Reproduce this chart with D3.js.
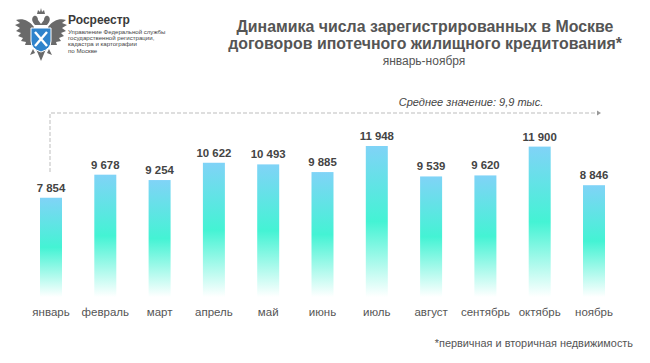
<!DOCTYPE html>
<html>
<head>
<meta charset="utf-8">
<script src="https://cdn.jsdelivr.net/npm/d3@7"></script>
<style>
    body { margin: 0; background: #fff; }
    svg { display: block; font-family: "Liberation Sans", Arial, sans-serif; }
</style>
</head>
<body>
<div class="chart-container"></div>
<script>
const months = ["январь", "февраль", "март", "апрель", "май", "июнь", "июль", "август", "сентябрь", "октябрь", "ноябрь"];
const values = [7854, 9678, 9254, 10622, 10493, 9885, 11948, 9539, 9620, 11900, 8846];
const titleLines = ["Динамика числа зарегистрированных в Москве", "договоров ипотечного жилищного кредитования*"];
const subtitle = "январь-ноября";
const meanLabel = "Среднее значение: 9,9 тыс.";
const footnote = "*первичная и вторичная недвижимость";
const logoName = "Росреестр";
const logoLines = ["Управление Федеральной службы", "государственной регистрации,", "кадастра и картографии", "по Москве"];

const w = 650;
const h = 363;

const svg = d3.select(".chart-container")
    .append("svg")
    .attr("width", w)
    .attr("height", h);

// bar gradient: blue on top, aqua in the middle, fading to white
const defs = svg.append("defs");
const grad = defs.append("linearGradient")
    .attr("id", "barGrad")
    .attr("x1", 0).attr("y1", 0).attr("x2", 0).attr("y2", 1);
grad.append("stop").attr("offset", "0%").attr("stop-color", "#80d3f7");
grad.append("stop").attr("offset", "50%").attr("stop-color", "#44f3d4");
grad.append("stop").attr("offset", "100%").attr("stop-color", "#ffffff");

const xScale = d3.scaleBand()
    .domain(months)
    .range([23.85, 621.15])
    .paddingInner(0.595)
    .paddingOuter(0.2975);

const yScale = d3.scaleLinear()
    .domain([0, d3.max(values)])
    .range([297, 146]);

const fmt = (v) => d3.format(",")(v).replace(/,/g, " ");

// logo
const logo = svg.append("g");
const wing = "M34,27 C29,20 22,18 16,20 L20,23 L15,25 L20,28 L16,31 L21,33 L18,36 L23,38 L21,41 L26,42 L25,45 L31,45 Z";
logo.append("path").attr("d", wing).attr("fill", "#6a6a6a");
logo.append("path").attr("d", wing).attr("fill", "#6a6a6a").attr("transform", "translate(82,0) scale(-1,1)");
logo.append("path")
    .attr("d", "M35,25 C32,22 31,18 34,16 C36,15 38,17 38,20 L41,24 L44,20 C44,17 46,15 48,16 C51,18 50,22 47,25 Z")
    .attr("fill", "#6a6a6a");
logo.append("path")
    .attr("d", "M37,14 L38,10 L40,12 L41,8 L42,12 L44,10 L45,14 Z")
    .attr("fill", "#6a6a6a");
logo.append("path")
    .attr("d", "M36,49 L41,61 L46,49 Z M33,49 L30,55 L35,53 Z M49,49 L52,55 L47,53 Z")
    .attr("fill", "#6a6a6a");
logo.append("path")
    .attr("d", "M31,28 H51 V41 Q51,49 41,52 Q31,49 31,41 Z")
    .attr("fill", "#2f83cc")
    .attr("stroke", "#ffffff")
    .attr("stroke-width", 1);
logo.append("path")
    .attr("d", "M35,32 L47,46 M47,32 L35,46")
    .attr("stroke", "#ffffff")
    .attr("stroke-width", 2.4);

logo.append("text")
    .attr("x", 68).attr("y", 24)
    .style("font-size", "12px")
    .style("font-weight", "bold")
    .attr("fill", "#3a3a3a")
    .text(logoName);

logo.selectAll(".logo-line")
    .data(logoLines)
    .enter()
    .append("text")
    .attr("class", "logo-line")
    .attr("x", 68)
    .attr("y", (d, i) => 33.5 + i * 6.4)
    .style("font-size", "6.1px")
    .attr("fill", "#444")
    .text((d) => d);

// title
svg.selectAll(".title")
    .data(titleLines)
    .enter()
    .append("text")
    .attr("class", "title")
    .attr("x", 425)
    .attr("y", (d, i) => 31.8 + i * 17)
    .attr("text-anchor", "middle")
    .style("font-size", "15.9px")
    .style("font-weight", "bold")
    .attr("fill", "#555")
    .text((d) => d);

svg.append("text")
    .attr("x", 424)
    .attr("y", 65)
    .attr("text-anchor", "middle")
    .style("font-size", "12px")
    .attr("fill", "#555")
    .text(subtitle);

// mean bracket
const left = xScale(months[0]) + xScale.bandwidth() / 2 - 1;
const right = xScale(months[months.length - 1]) + xScale.bandwidth() / 2 + 7;
svg.append("path")
    .attr("d", `M${left},172 V113 H${right - 4}`)
    .attr("fill", "none")
    .attr("stroke", "#bdbdbd")
    .attr("stroke-width", 1)
    .attr("stroke-dasharray", "4,2");
svg.append("path")
    .attr("d", `M${right - 4},110.5 L${right},113 L${right - 4},115.5 Z`)
    .attr("fill", "#999");

svg.append("text")
    .attr("x", 471)
    .attr("y", 106)
    .attr("text-anchor", "middle")
    .style("font-size", "11px")
    .style("font-style", "italic")
    .attr("fill", "#444")
    .text(meanLabel);

// bars
svg.selectAll(".bar")
    .data(values)
    .enter()
    .append("rect")
    .attr("class", "bar")
    .attr("x", (d, i) => xScale(months[i]))
    .attr("y", (d) => yScale(d))
    .attr("width", xScale.bandwidth())
    .attr("height", (d) => yScale(0) - yScale(d))
    .attr("fill", "url(#barGrad)");

svg.selectAll(".value")
    .data(values)
    .enter()
    .append("text")
    .attr("class", "value")
    .attr("x", (d, i) => xScale(months[i]) + xScale.bandwidth() / 2)
    .attr("y", (d) => yScale(d) - 6)
    .attr("text-anchor", "middle")
    .style("font-size", "11.4px")
    .style("font-weight", "bold")
    .attr("fill", "#444")
    .text((d) => fmt(d));

// month axis
const xAxis = d3.axisBottom(xScale).tickSize(0).tickPadding(3);
const axisG = svg.append("g")
    .attr("transform", "translate(0,305)")
    .call(xAxis);
axisG.select(".domain").remove();
axisG.selectAll("text")
    .style("font-size", "11.5px")
    .style("font-family", "\"Liberation Sans\", Arial, sans-serif")
    .attr("fill", "#555");

svg.append("text")
    .attr("x", 633)
    .attr("y", 347)
    .attr("text-anchor", "end")
    .style("font-size", "10.9px")
    .attr("fill", "#555")
    .text(footnote);
</script>
</body>
</html>
